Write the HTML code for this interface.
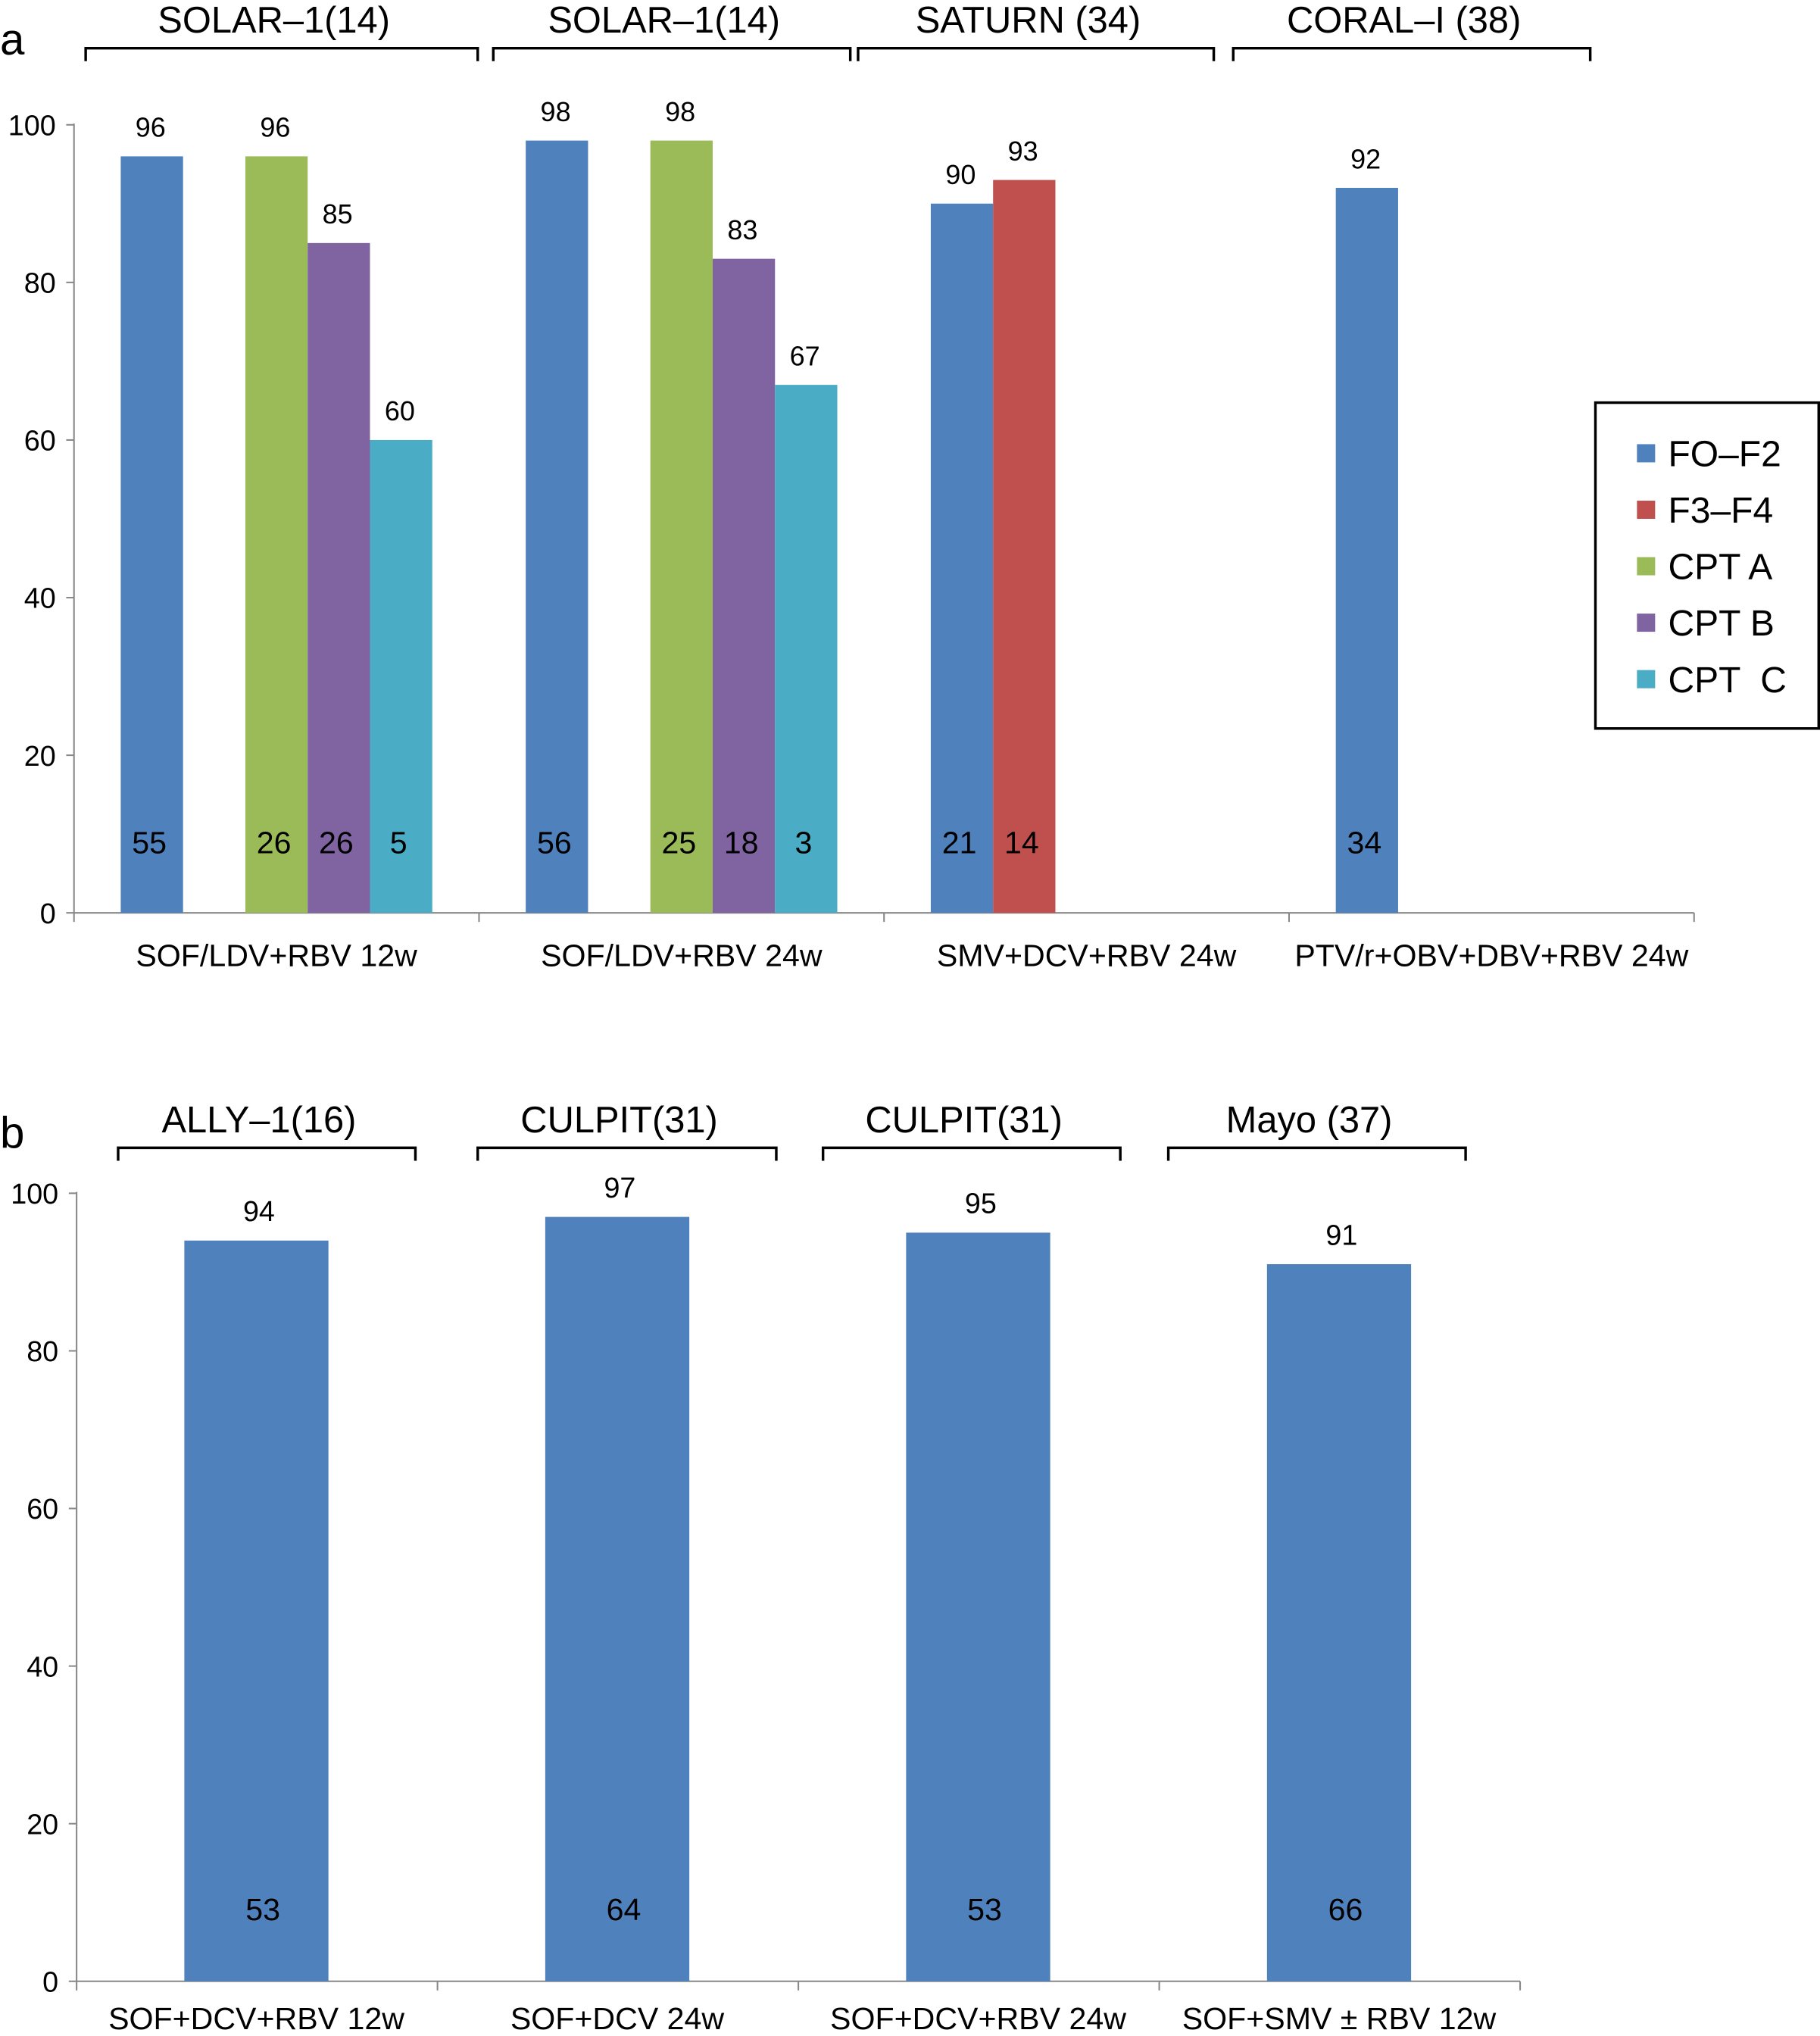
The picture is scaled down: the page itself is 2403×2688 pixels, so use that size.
<!DOCTYPE html>
<html><head><meta charset="utf-8"><style>
html,body{margin:0;padding:0;background:#fff}
svg{display:block}
text{font-family:"Liberation Sans",sans-serif;fill:#000}
</style></head><body>
<svg id="chart" width="2403" height="2688" viewBox="0 0 1402 1568" xmlns="http://www.w3.org/2000/svg"></svg>
<script>
// Panel a data
const aCategories = ["SOF/LDV+RBV 12w","SOF/LDV+RBV 24w","SMV+DCV+RBV 24w","PTV/r+OBV+DBV+RBV 24w"];
const aSeriesNames = ["FO–F2","F3–F4","CPT A","CPT B","CPT \u00a0C"];
const aFO = [96,98,90,92];
const aF3 = [null,null,93,null];
const aCPTA = [96,98,null,null];
const aCPTB = [85,83,null,null];
const aCPTC = [60,67,null,null];
const aNFO = [55,56,21,34];
const aNF3 = [null,null,14,null];
const aNCPTA = [26,25,null,null];
const aNCPTB = [26,18,null,null];
const aNCPTC = [5,3,null,null];
const aStudies = ["SOLAR–1(14)","SOLAR–1(14)","SATURN (34)","CORAL–I (38)"];
const yTicks = [0,20,40,60,80,100];
// Panel b data
const bCategories = ["SOF+DCV+RBV 12w","SOF+DCV 24w","SOF+DCV+RBV 24w","SOF+SMV ± RBV 12w"];
const bValues = [94,97,95,91];
const bCounts = [53,64,53,66];
const bStudies = ["ALLY–1(16)","CULPIT(31)","CULPIT(31)","Mayo (37)"];

const colors = ["#4F81BD","#C0504D","#9BBB59","#8064A2","#4BACC6"];
const svg = document.getElementById('chart');
const NS = "http://www.w3.org/2000/svg";
function mk(tag, attrs, parent){const e=document.createElementNS(NS,tag);for(const k in attrs)e.setAttribute(k,attrs[k]);(parent||svg).appendChild(e);return e;}
function txt(x,y,s,size,anchor,name){const t=mk('text',{x:x,y:y,'font-size':size,'text-anchor':anchor||'middle'});t.textContent=s;


return t;}

function axes(x0,x1,yZero,yTop,nCat,prefix){
  const ys=v=>yZero-(yZero-yTop)*v/100;
  const ax=mk('line',{x1:x0,y1:yTop-1,x2:x0,y2:yZero,stroke:'#888','stroke-width':1.2});
  
  
  const bx=mk('line',{x1:x0,y1:yZero,x2:x1,y2:yZero,stroke:'#888','stroke-width':1.2});
  
  
  yTicks.forEach(v=>{
    const y=ys(v);
    const tk=mk('line',{x1:x0-6,y1:y,x2:x0,y2:y,stroke:'#888','stroke-width':1.2});
    
    
    txt(x0-14,y+8,String(v),22,'end',prefix+'-y-tick-label');
  });
  const cw=(x1-x0)/nCat;
  for(let i=0;i<=nCat;i++){
    const xt=x0+i*cw;
    const tk=mk('line',{x1:xt,y1:yZero,x2:xt,y2:yZero+7,stroke:'#888','stroke-width':1.2});
    
    
  }
  return ys;
}
function bracket(x1,x2,y,label,ty,name){
  const p=mk('path',{d:`M${x1},${y+10}V${y}H${x2}V${y+10}`,fill:'none',stroke:'#000','stroke-width':2});
  
  
  txt((x1+x2)/2-6,ty,label,28.5,'middle',name+'-title');
}

// ---- Panel a ----
txt(0,42,"a",34,'start','panel-a-label');
const aX0=57,aX1=1305,aZ=703,aT=96;
const ysA=axes(aX0,aX1,aZ,aT,4,'panel-a');
const aCW=(aX1-aX0)/4, slot=48, pad=(aCW-5*slot)/2;
const aSeries=[aFO,aF3,aCPTA,aCPTB,aCPTC];
const aCounts=[aNFO,aNF3,aNCPTA,aNCPTB,aNCPTC];
aCategories.forEach((c,i)=>{
  const cx=aX0+i*aCW;
  aSeries.forEach((s,j)=>{
    const v=s[i]; if(v==null) return;
    const x=cx+pad+j*slot, y=ysA(v);
    const r=mk('rect',{x:x,y:y,width:slot,height:aZ-y,fill:colors[j]});
    
    
    txt(x+slot/2-1,y-15,String(v),21,'middle','value-label');
    txt(x+slot/2-2,aZ-46,String(aCounts[j][i]),24,'middle','count-label');
  });
  txt(cx+aCW/2,744,c,24,'middle','category-label');
});
const aBr=[[66,368],[380,655],[661,935],[950,1225]];
aBr.forEach((b,i)=>bracket(b[0],b[1],37,aStudies[i],25,'study-a-'+(i+1)));

// legend
const lg=mk('rect',{x:1229,y:310,width:172,height:251,fill:'#fff',stroke:'#000','stroke-width':2});


aSeriesNames.forEach((n,j)=>{
  const y=349+j*43.5;
  const sw=mk('rect',{x:1261,y:y-7,width:14,height:14,fill:colors[j]});
  
  
  txt(1285,y+10,n,28,'start','legend-entry');
});

// ---- Panel b ----
txt(0,884,"b",34,'start','panel-b-label');
const bX0=59,bX1=1171,bZ=1526,bT=919;
const ysB=axes(bX0,bX1,bZ,bT,4,'panel-b');
const bCW=(bX1-bX0)/4, bW=111, bPad=83;
bCategories.forEach((c,i)=>{
  const x=bX0+i*bCW+bPad, y=ysB(bValues[i]);
  const r=mk('rect',{x:x,y:y,width:bW,height:bZ-y,fill:colors[0]});
  
  
  txt(x+bW/2+2,y-15,String(bValues[i]),22,'middle','value-label');
  txt(x+bW/2+5,bZ-47,String(bCounts[i]),24,'middle','count-label');
  txt(x+bW/2,1563,c,24,'middle','category-label');
});
const bBr=[[91,320],[368,598],[634,863],[900,1129]];
bBr.forEach((b,i)=>bracket(b[0],b[1],884,bStudies[i],872,'study-b-'+(i+1)));
</script>
</body></html>
